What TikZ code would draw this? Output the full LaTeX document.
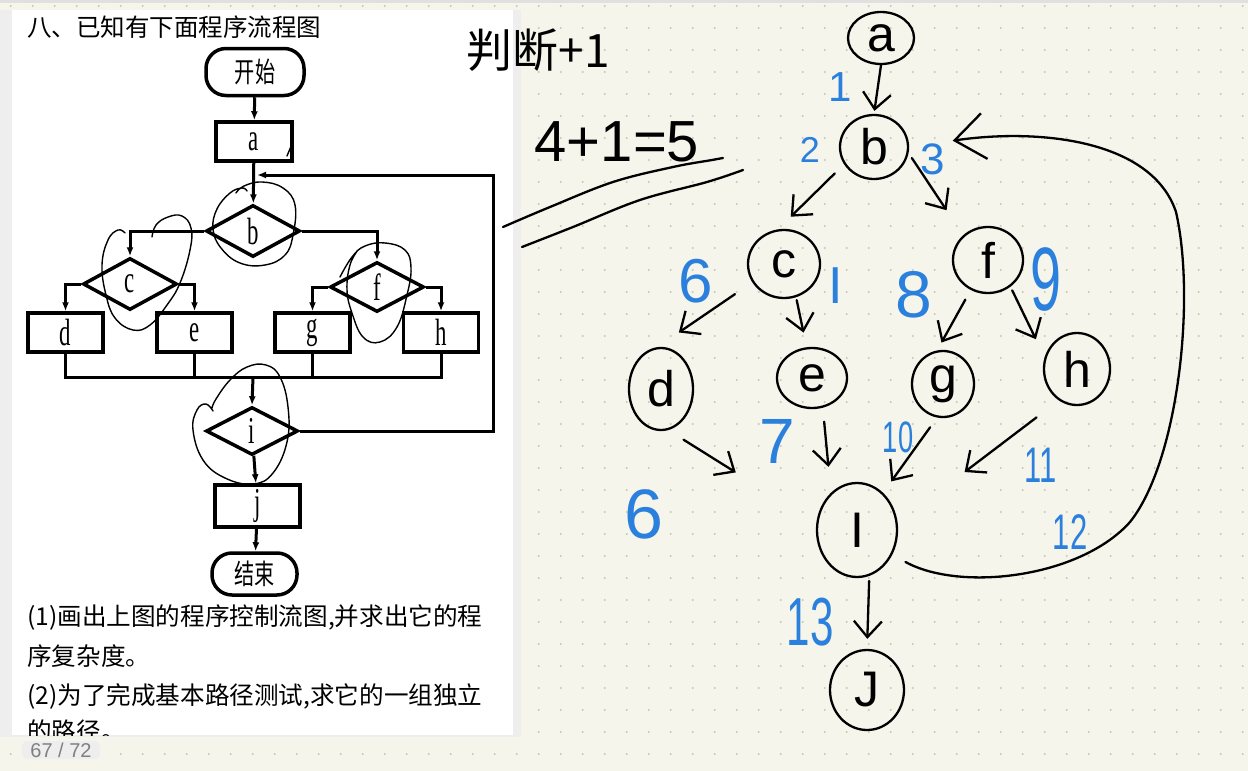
\documentclass[tikz,border=0pt]{standalone}
\usepackage{fontspec}
\setmainfont{Liberation Serif}
\newfontfamily\cjk{Noto Sans CJK SC}
\newfontfamily\hand{Liberation Sans}
\usetikzlibrary{shapes.geometric,arrows.meta,calc}
\definecolor{paper}{HTML}{F6F5EB}
\definecolor{dotc}{HTML}{C8C7BC}
\definecolor{inkblue}{HTML}{2A80DC}
\definecolor{panelgray}{HTML}{EEEEEE}
\definecolor{pagegray}{HTML}{808080}
\newcommand\flab[1]{\scalebox{0.6}[1]{#1}}
\newcommand\cjknarrow[1]{\scalebox{0.72}[1]{#1}}
\newcommand\narrowdig[1]{\scalebox{0.62}[1]{#1}}
\begin{document}
\begin{tikzpicture}[x=1pt,y=-1pt,
  fbox/.style={draw, line width=3.5pt, rectangle, minimum width=76pt, minimum height=39pt, inner sep=0pt, font=\fontsize{38}{40}\selectfont},
  fdia/.style={draw, line width=3.5pt, diamond, inner sep=0pt, minimum width=94pt, minimum height=52pt, font=\fontsize{38}{40}\selectfont},
  fterm/.style={draw, line width=3.5pt, rectangle, rounded corners=20pt, inner sep=0pt, font=\cjk\fontsize{28}{30}\selectfont},
  fline/.style={line width=3pt},
  farrow/.style={line width=3pt, -{Latex[length=9pt,width=7pt]}},
  scrib/.style={line width=1.4pt, line cap=round, line join=round},
  hnode/.style={draw, ellipse, line width=2.3pt, inner sep=0pt, font=\hand\fontsize{50}{52}\selectfont},
  hand/.style={line width=2.3pt, line cap=round, line join=round},
  harrow/.style={hand, -{Straight Barb[length=16pt,width=28pt]}},
  bigarrow/.style={hand, -{Straight Barb[length=30pt,width=46pt]}},
  blab/.style={inner sep=0pt, text=inkblue, font=\hand\fontsize{#1}{#1}\selectfont},
  qtext/.style={anchor=west, inner sep=0pt, font=\cjk\fontsize{24.6}{26}\selectfont}
]
\useasboundingbox (0,0) rectangle (1248,771);
% background paper with dot grid
\fill[paper] (0,0) rectangle (1248,771);
\foreach \i in {0,...,56}{\foreach \j in {0,...,35}{\fill[dotc] (10.7+22*\i,6+22*\j) circle (1.1pt);}}
\fill[black!12] (0,0) rectangle (1248,3);
% left white page
\fill[panelgray] (0,10) rectangle (521,737);
\fill[white] (12,10) rectangle (513,735);

% ---------- left flowchart ----------
\node[anchor=west, inner sep=0pt, font=\cjk\fontsize{24.5}{26}\selectfont] (title) at (27,27) {八、已知有下面程序流程图};
\node[fterm, minimum width=98pt, minimum height=47pt] (start) at (255,72) {\cjknarrow{开始}};
\node[fbox, minimum width=76pt] (a) at (254,141.5) {\flab{a}};
\node[fdia] (b) at (253,231) {\flab{b}};
\node[fdia] (c) at (130,284) {\flab{c}};
\node[fdia, minimum height=50pt] (f) at (377,287) {\flab{f}};
\node[fbox, minimum width=75pt] (d) at (65.5,332.5) {\flab{d}};
\node[fbox, minimum width=75pt] (e) at (194.5,332.5) {\flab{e}};
\node[fbox, minimum width=75pt] (g) at (312.5,332.5) {\flab{g}};
\node[fbox, minimum width=75pt] (h) at (441,332.5) {\flab{h}};
\node[fdia, minimum width=92pt, minimum height=48pt] (i) at (252,431) {\flab{i}};
\node[fbox, minimum width=85pt, minimum height=42pt] (j) at (257.5,506) {\flab{j}};
\node[fterm, minimum width=85pt, minimum height=42pt] (end) at (254.5,574) {\cjknarrow{结束}};
\coordinate (m) at (253,377);
\coordinate (loopc) at (493,175);
\coordinate (bin) at (257,175);

\draw[farrow] (start) -- (a);
\draw[farrow] (a) -- (b);
\draw[farrow] (b.west) -| (c.north);
\draw[farrow] (b.east) -| (f.north);
\draw[farrow] (c.west) -| (d.north);
\draw[farrow] (c.east) -| (e.north);
\draw[farrow] (f.west) -| (g.north);
\draw[farrow] (f.east) -| (h.north);
\draw[fline] (d.south) -- (d.south |- m) -- (h.south |- m) -- (h.south);
\draw[fline] (e.south) -- (e.south |- m);
\draw[fline] (g.south) -- (g.south |- m);
\draw[farrow] (m) -- (i.north);
\draw[farrow] (i.east) -| (loopc) -- (bin);
\draw[farrow] (i) -- (j);
\draw[farrow] (j) -- (end);

% hand annotations on the flowchart
\draw[scrib] (287,156) -- (292,144);
\draw[scrib] plot[smooth, tension=0.7] coordinates {(236,193) (244,186) (262,182) (283,188) (295,205) (293,235) (285,255) (265,265) (240,263) (221,248) (213,229) (217,209) (230,193) (242,188) (247,191)};
\draw[scrib] plot[smooth, tension=0.7] coordinates {(152,237) (156,225) (168,217) (182,216) (191,228) (190,250) (180,283) (167,305) (150,325) (133,330) (115,318) (106,295) (102,265) (108,240) (118,230) (125,233)};
\draw[scrib] plot[smooth, tension=0.7] coordinates {(340,277) (352,257) (365,246) (385,243) (405,250) (411,268) (407,295) (397,327) (380,342) (363,337) (352,313) (347,290) (350,265) (358,250)};
\draw[scrib] plot[smooth, tension=0.7] coordinates {(213,411) (206,404) (197,410) (193,430) (203,460) (225,478) (253,484) (273,473) (287,442) (288,407) (280,377) (266,365) (247,367) (230,380) (216,399) (212,408)};

% question text (clipped by the page)
\begin{scope}
\clip (12,10) rectangle (513,735);
\node[qtext] (q1) at (27,617) {(1)画出上图的程序控制流图,并求出它的程};
\node[qtext] (q2) at (27,656) {序复杂度。};
\node[qtext] (q3) at (27,696) {(2)为了完成基本路径测试,求它的一组独立};
\node[qtext] (q4) at (27,731) {的路径。};
\end{scope}
% page indicator
\node[fill=panelgray, rounded corners=6pt, minimum width=78pt, minimum height=18pt, inner sep=0pt, text=pagegray, font=\hand\fontsize{20}{22}\selectfont] (page) at (61,750) {67 / 72};

% ---------- handwritten notes ----------
\node[inner sep=0pt, font=\cjk\fontsize{46}{48}\selectfont] (pd) at (538,50) {判断+1};
\node[inner sep=0pt, font=\hand\fontsize{58}{60}\selectfont] (calc) at (617,142) {4+1=5};
\draw[hand] plot[smooth, tension=0.6] coordinates {(503,227) (550,207) (613,182) (673,167) (712,160) (723,158)};
\draw[hand] plot[smooth, tension=0.6] coordinates {(522,247) (573,227) (640,200) (707,182) (743,170)};

% ---------- control flow graph ----------
\node[hnode, minimum width=66pt, minimum height=52pt] (na) at (881,38) {a};
\node[hnode, minimum width=68pt, minimum height=64pt] (nb) at (874,147) {b};
\node[hnode, minimum width=72pt, minimum height=68pt] (nc) at (784,264) {c};
\node[hnode, minimum width=70pt, minimum height=66pt] (nf) at (988,260) {f};
\node[hnode, minimum width=64pt, minimum height=82pt] (nd) at (661,389) {d};
\node[hnode, minimum width=70pt, minimum height=60pt] (ne) at (812,378) {e};
\node[hnode, minimum width=62pt, minimum height=66pt] (ng) at (943,384) {g};
\node[hnode, minimum width=66pt, minimum height=72pt] (nh) at (1077,369) {h};
\node[hnode, minimum width=80pt, minimum height=94pt] (ni) at (857,530) {I};
\node[hnode, minimum width=74pt, minimum height=80pt] (nj) at (867,690) {J};

\draw[harrow, shorten >=3pt] (na.south) -- (nb.north);
\draw[harrow, shorten <=13pt, shorten >=18pt] (nb.210) -- (nc.100);
\draw[harrow, shorten <=6pt, shorten >=30pt] (nb.-10) -- (nf.135);
\draw[harrow, shorten <=21pt, shorten >=26pt] (nc.210) -- (nd.95);
\draw[harrow, shorten <=3pt, shorten >=15pt] (nc.-70) -- (ne.100);
\draw[harrow, shorten <=11pt, shorten >=9pt] (nf.-120) -- (ng.100);
\draw[harrow, shorten <=4pt, shorten >=20pt] (nf.-50) -- (nh.160);
\draw[harrow, shorten <=18pt, shorten >=95pt] (nd.-80) -- (ni.170);
\draw[harrow, shorten <=14pt, shorten >=26pt] (ne.-70) -- (ni.125);
\draw[harrow, shorten <=12pt, shorten >=14pt] (ng.-100) -- (ni.55);
\draw[harrow, shorten <=28pt, shorten >=84pt] (nh.-120) -- (ni.10);
\draw[harrow, shorten <=5pt, shorten >=10pt] (ni.-75) -- (nj.90);
\draw[bigarrow, shorten <=15pt, shorten >=44pt] (ni.-35) .. controls (960,592) and (1080,578) .. (1130,522) .. controls (1178,462) and (1196,300) .. (1176,212) .. controls (1152,140) and (1040,128) .. (nb.east);

% edge numbers
\node[blab=42] (l1) at (840,87) {1};
\node[blab=36] (l2) at (810,150) {2};
\node[blab=44] (l3) at (933,159) {3};
\node[blab=62] (l4) at (696,281) {6};
\node[blab=52] (l5) at (836,286) {I};
\node[blab=66] (l8) at (914,295) {8};
\node[blab=90] (l9) at (1046,280) {\narrowdig{9}};
\node[blab=64] (l7) at (777,441) {7};
\node[blab=44] (l10) at (898,437) {\narrowdig{10}};
\node[blab=50] (l11) at (1041,465) {\narrowdig{11}};
\node[blab=50] (l12) at (1070,532) {\narrowdig{12}};
\node[blab=70] (l6) at (644,514) {6};
\node[blab=68] (l13) at (810,622) {\narrowdig{13}};
\end{tikzpicture}
\end{document}
